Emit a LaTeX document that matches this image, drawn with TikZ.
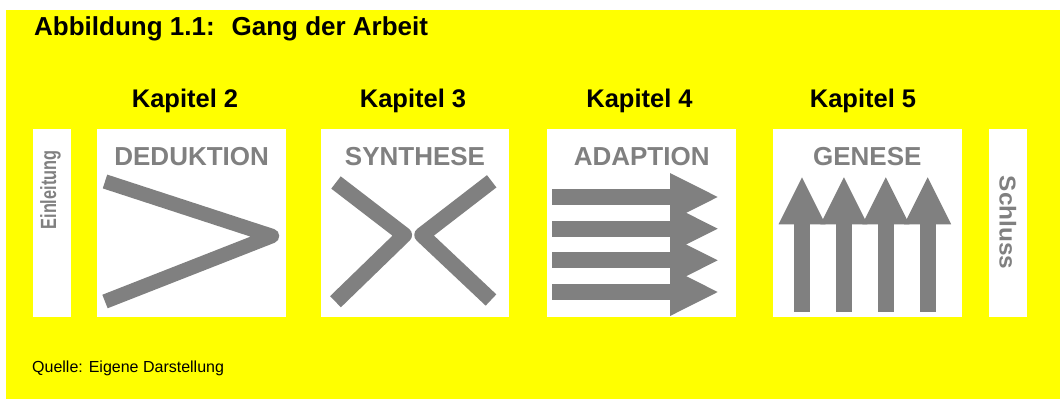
\documentclass[tikz,border=0pt]{standalone}
\usepackage{graphicx}
\usepackage{fontspec}
\setmainfont{Liberation Sans}
\definecolor{ylw}{HTML}{FFFF00}
\definecolor{gry}{HTML}{808080}
\begin{document}
\begin{tikzpicture}[x=1pt,y=-1pt,
  wbox/.style={fill=white,draw=none,inner sep=0,minimum height=188},
  kap/.style={anchor=base,inner sep=0,font=\fontsize{25.5}{30}\selectfont\bfseries},
  lbl/.style={anchor=base,inner sep=0,text=gry,font=\fontsize{26}{30}\selectfont\bfseries},
  sidelbl/.style={anchor=base,inner sep=0,text=gry},
  glyph/.style={draw=gry,line join=round,line cap=butt}]
\useasboundingbox (0,0) rectangle (1060,399);
\fill[white] (0,0) rectangle (1060,399);
\node[fill=ylw,draw=none,inner sep=0,minimum width=1054,minimum height=389,anchor=north west] (bg) at (6,10) {};

% title
\node[anchor=base west,inner sep=0,font=\fontsize{26}{30}\selectfont\bfseries] (title) at (34,35.5) {Abbildung 1.1: \ Gang der Arbeit};

% boxes
\node[wbox,minimum width=37.7] (ein) at (52.15,223) {};
\node[wbox,minimum width=188.7] (ded) at (191.65,223) {};
\node[wbox,minimum width=188] (syn) at (415,223) {};
\node[wbox,minimum width=188.7] (ada) at (641.65,223) {};
\node[wbox,minimum width=189.5] (gen) at (867.25,223) {};
\node[wbox,minimum width=38] (sch) at (1008,223) {};

% chapter headings
\node[kap] (k2) at (185,107) {Kapitel 2};
\node[kap] (k3) at (413,107) {Kapitel 3};
\node[kap] (k4) at (639.5,107) {Kapitel 4};
\node[kap] (k5) at (863,107) {Kapitel 5};

% box labels
\coordinate (lb) at (0,165);
\node[lbl] (dedl) at (ded.center |- lb) {DEDUKTION};
\node[lbl] (synl) at (syn.center |- lb) {SYNTHESE};
\node[lbl] (adal) at (ada.center |- lb) {ADAPTION};
\node[lbl] (genl) at (gen.center |- lb) {GENESE};

% side labels
\node[sidelbl,rotate=90,font=\fontsize{22}{26}\selectfont\bfseries] (eint) at (56,190) {\scalebox{0.74}[1]{Einleitung}};
\node[sidelbl,rotate=-90,font=\fontsize{23}{27}\selectfont\bfseries] (scht) at (999.5,222.5) {\scalebox{1.06}[1]{Schluss}};

% DEDUKTION: V shape
\draw[glyph,line width=14.5pt] (105,181.5) -- (272,236) -- (105,301.5);

% SYNTHESE: two opposing angles
\draw[glyph,line width=15.5pt] (336,182.5) -- (404.3,235) -- (335.5,301.7);
\draw[glyph,line width=15.5pt] (491.7,181.3) -- (422,235) -- (491,300);

% ADAPTION: four arrows to the right
\foreach \i in {0,...,3} {
  \pgfmathsetmacro\cy{197+\i*31.67}
  \fill[gry] (551.7,\cy-8) rectangle (670,\cy+8);
  \fill[gry] (670,\cy-24) -- (717.7,\cy) -- (670,\cy+24) -- cycle;
}

% GENESE: four arrows upward
\foreach \i in {0,...,3} {
  \pgfmathsetmacro\cx{802+\i*41.9}
  \fill[gry] (\cx-7.8,224.3) rectangle (\cx+7.8,311.7);
  \fill[gry] (\cx-23.5,224.3) -- (\cx,177.3) -- (\cx+23.5,224.3) -- cycle;
}

% source
\node[anchor=base west,inner sep=0,font=\fontsize{16}{19}\selectfont] (src) at (32,372) {Quelle: Eigene Darstellung};
\end{tikzpicture}
\end{document}
